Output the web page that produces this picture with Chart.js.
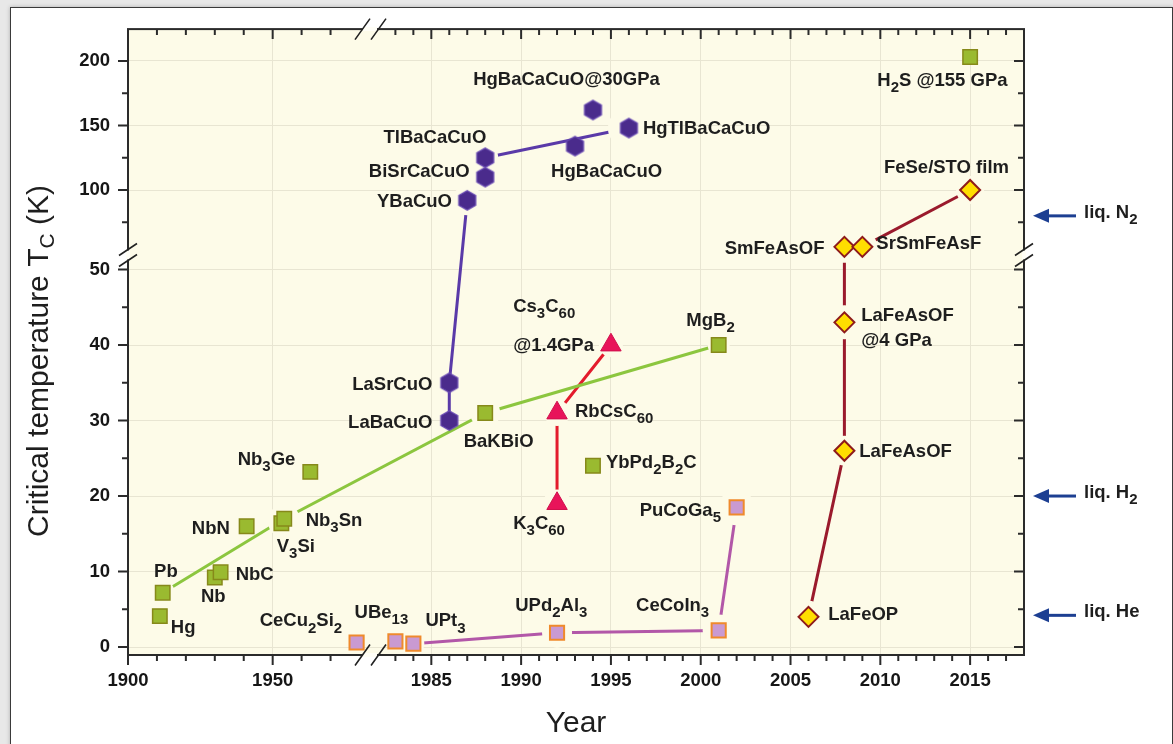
<!DOCTYPE html>
<html><head><meta charset="utf-8">
<script src="https://cdn.jsdelivr.net/npm/chart.js@4.4.1/dist/chart.umd.min.js"></script>
<style>
html,body{margin:0;padding:0;background:#e8e8e8;width:1173px;height:744px;overflow:hidden}
#frame{position:absolute;left:10px;top:7px;width:1161px;height:800px;background:#fff;border:1px solid #3a3a3a;box-shadow:0 0 4px rgba(0,0,0,.25)}
canvas{position:absolute;left:0;top:0}
</style></head><body>
<div id="frame"></div>
<canvas id="c" width="1173" height="744"></canvas>
<script>
// ---------------- data (year of discovery, Tc in K) ----------------
const convNames = ['Hg','Pb','Nb','NbC','NbN','V3Si','Nb3Sn','Nb3Ge','BaKBiO','YbPd2B2C','MgB2','H2S'];
const convYear  = [1911,1912,1930,1932,1941,1953,1954,1963,1988,1994,2001,2015];
const convTc    = [4.1,7.2,9.2,9.9,16.0,16.4,17.0,23.2,31,24,40,203];
const convPath  = ['Pb','Nb3Sn','BaKBiO','MgB2'];

const cuprNames = ['LaBaCuO','LaSrCuO','YBaCuO','BiSrCaCuO','TlBaCaCuO','HgBaCaCuO','HgBaCaCuO@30GPa','HgTlBaCaCuO'];
const cuprYear  = [1986,1986,1987,1988,1988,1993,1994,1996];
const cuprTc    = [30,35,92,110,125,134,162,148];
const cuprPathA = ['LaBaCuO','LaSrCuO','YBaCuO'];
const cuprPathB = ['TlBaCaCuO','HgTlBaCaCuO'];

const fullNames = ['K3C60','RbCsC60','Cs3C60'];
const fullYear  = [1992,1992,1995];
const fullTc    = [19,31,40];
const fullPath  = ['K3C60','RbCsC60','Cs3C60'];

const hfNames = ['CeCu2Si2','UBe13','UPt3','UPd2Al3','CeCoIn','PuCoGa5'];
const hfYear  = [1979,1983,1984,1992,2001,2002];
const hfTc    = [0.6,0.75,0.45,1.9,2.2,18.5];
const hfPath  = ['UPt3','UPd2Al3','CeCoIn','PuCoGa5'];

const feNames = ['LaFeOP','LaFeAsOF','LaFeAsOF@4GPa','SmFeAsOF','SrSmFeAsF','FeSe/STO'];
const feYear  = [2006,2008,2008,2008,2009,2015];
const feTc    = [4,26,43,56,56,100];
const fePathA = ['LaFeOP','LaFeAsOF','LaFeAsOF@4GPa','SmFeAsOF'];
const fePathB = ['SrSmFeAsF','FeSe/STO'];

const liqNames = ['liq. N_{2}','liq. H_{2}','liq. He'];
const liqTc    = [80,20,4.2];

const xMajorYears = [1900,1950,1985,1990,1995,2000,2005,2010,2015];
const xMinorYears = [1910,1920,1930,1940,1960,1970,1983,1984,1986,1987,1988,1989,1991,1992,1993,1994,1996,1997,1998,1999,2001,2002,2003,2004,2006,2007,2008,2009,2011,2012,2013,2014,2016,2017];
const yMajorTc = [0,10,20,30,40,50,100,150,200];
const yMinorTc = [5,15,25,35,45,75,125,175];

// text annotations: text, anchor year, anchor Tc, alignment
const notes = [
 {t:'Pb',x:1909.0,y:9.9,a:'L'},{t:'Hg',x:1914.8,y:2.5,a:'L'},{t:'Nb',x:1925.2,y:6.6,a:'L'},
 {t:'NbC',x:1937.2,y:9.6,a:'L'},{t:'NbN',x:1935.2,y:15.6,a:'R'},{t:'V_{3}Si',x:1951.4,y:13.3,a:'L'},
 {t:'Nb_{3}Sn',x:1961.4,y:16.7,a:'L'},{t:'Nb_{3}Ge',x:1937.9,y:24.8,a:'L'},
 {t:'CeCu_{2}Si_{2}',x:1945.5,y:3.4,a:'L'},{t:'UBe_{13}',x:1978.3,y:4.5,a:'L'},
 {t:'UPt_{3}',x:1984.67,y:3.4,a:'L'},{t:'UPd_{2}Al_{3}',x:1989.67,y:5.5,a:'L'},
 {t:'CeCoIn_{3}',x:1996.4,y:5.5,a:'L'},{t:'PuCoGa_{5}',x:1996.6,y:18.0,a:'L'},
 {t:'K_{3}C_{60}',x:1989.56,y:16.25,a:'L'},{t:'LaFeOP',x:2007.1,y:4.2,a:'L'},
 {t:'LaSrCuO',x:1985.06,y:34.7,a:'R'},{t:'LaBaCuO',x:1985.06,y:29.7,a:'R'},
 {t:'BaKBiO',x:1986.8,y:27.2,a:'L'},{t:'Cs_{3}C_{60}',x:1989.56,y:45.0,a:'L'},
 {t:'@1.4GPa',x:1989.56,y:39.9,a:'L'},{t:'RbCsC_{60}',x:1993.0,y:31.2,a:'L'},
 {t:'YbPd_{2}B_{2}C',x:1994.72,y:24.4,a:'L'},{t:'MgB_{2}',x:1999.2,y:43.2,a:'L'},
 {t:'YBaCuO',x:1986.15,y:90.8,a:'R'},{t:'BiSrCaCuO',x:1987.13,y:113.8,a:'R'},
 {t:'TlBaCaCuO',x:1988.06,y:140,a:'R'},{t:'HgBaCaCuO',x:1991.67,y:114.2,a:'L'},
 {t:'HgBaCaCuO@30GPa',x:1987.33,y:185,a:'L'},{t:'HgTlBaCaCuO',x:1996.78,y:147.3,a:'L'},
 {t:'SmFeAsOF',x:2006.89,y:54.2,a:'R'},{t:'SrSmFeAsF',x:2009.78,y:58.1,a:'L'},
 {t:'LaFeAsOF',x:2008.94,y:43.9,a:'L'},{t:'@4 GPa',x:2008.94,y:40.5,a:'L'},
 {t:'LaFeAsOF',x:2008.83,y:25.9,a:'L'},{t:'FeSe/STO film',x:2010.2,y:116.9,a:'L'},
 {t:'H_{2}S @155 GPa',x:2009.83,y:184.2,a:'L'}
];

// ---------------- broken-axis transforms ----------------
const XK = 2.9/18;                       // 1900-1980 section compressed
function dx(yr){ return yr <= 1980 ? 1981 - (1980 - yr)*XK : yr; }
function ix(d){ return d < 1981 ? 1980 - (1981 - d)/XK : d; }
const YK = 1.3/7.6, Y100 = 60.526;       // 50-225 K section compressed
function dy(t){ return t <= 50.5 ? t : Y100 + (t - 100)*YK; }
function iy(d){ return d <= 50.5 ? d : 100 + (d - Y100)/YK; }

const FONT = "'Liberation Sans', Arial, Helvetica, sans-serif";
const CREAM = '#fdfbe8';
Chart.defaults.font.family = FONT;

function pts(names, years, tcs, sel){
  const list = sel || names;
  return list.map(n => { const i = names.indexOf(n); return {x: dx(years[i]), y: dy(tcs[i])}; });
}

function hexImg(r, fill, stroke){
  const c = document.createElement('canvas'); const s = Math.ceil(2*r + 3);
  c.width = s; c.height = s; const g = c.getContext('2d');
  g.beginPath();
  for (let k = 0; k < 6; k++){ const a = Math.PI/180*(60*k - 90);
    const px = s/2 + r*Math.cos(a), py = s/2 + r*Math.sin(a); k ? g.lineTo(px,py) : g.moveTo(px,py); }
  g.closePath(); g.fillStyle = fill; g.fill(); g.lineWidth = 1.2; g.strokeStyle = stroke; g.stroke();
  return c;
}
const hex = hexImg(9.8, '#4a2b8c', '#6a4cb4');

// halo radii (gap of connecting lines around markers)
const haloR = {Pb:12,Nb3Sn:15,V3Si:13,BaKBiO:15,MgB2:11,YBaCuO:15,TlBaCaCuO:13,HgTlBaCaCuO:21,
  K3C60:14,RbCsC60:13,Cs3C60:12,UPt3:11,UPd2Al3:15,CeCoIn:16,PuCoGa5:18,
  LaFeOP:16,LaFeAsOF:15,'LaFeAsOF@4GPa':17,SmFeAsOF:16,SrSmFeAsF:15,'FeSe/STO':14};
const allSets = [[convNames,convYear,convTc],[cuprNames,cuprYear,cuprTc],[fullNames,fullYear,fullTc],[hfNames,hfYear,hfTc],[feNames,feYear,feTc]];
const haloData = [], haloRad = [];
allSets.forEach(([n,y,t]) => n.forEach((nm,i) => { if (haloR[nm]) { haloData.push({x:dx(y[i]), y:dy(t[i])}); haloRad.push(haloR[nm]); } }));

function lineDS(data, color){ return {data, showLine:true, borderColor:color, borderWidth:3, pointRadius:0, pointHoverRadius:0, fill:false, order:10, borderCapStyle:'butt'}; }

const datasets = [
  lineDS(pts(convNames,convYear,convTc,convPath), '#8cc63f'),
  lineDS(pts(cuprNames,cuprYear,cuprTc,cuprPathA), '#5a3aa8'),
  lineDS(pts(cuprNames,cuprYear,cuprTc,cuprPathB), '#5a3aa8'),
  lineDS(pts(fullNames,fullYear,fullTc,fullPath), '#e31b2c'),
  lineDS(pts(hfNames,hfYear,hfTc,hfPath), '#b257a8'),
  lineDS(pts(feNames,feYear,feTc,fePathA), '#9a1a2c'),
  lineDS(pts(feNames,feYear,feTc,fePathB), '#9a1a2c'),
  {data: haloData, pointStyle:'circle', pointRadius: haloRad, pointBackgroundColor: CREAM, pointBorderWidth:0, order:5},
  {data: pts(convNames,convYear,convTc), pointStyle:'rect', pointRadius:10.2, pointBackgroundColor:'#9aba30', pointBorderColor:'#86891a', pointBorderWidth:1.5, order:1},
  {data: pts(cuprNames,cuprYear,cuprTc), pointStyle:hex, pointRadius:10, order:1},
  {data: pts(fullNames,fullYear,fullTc), pointStyle:'triangle', pointRadius:11.8, pointBackgroundColor:'#e8145a', pointBorderColor:'#d0104c', pointBorderWidth:1, order:1},
  {data: pts(hfNames,hfYear,hfTc), pointStyle:'rect', pointRadius:10, pointBackgroundColor:'#c99ad2', pointBorderColor:'#ef8a2c', pointBorderWidth:2, order:1},
  {data: pts(feNames,feYear,feTc), pointStyle:'rectRot', pointRadius:10, pointBackgroundColor:'#ffde00', pointBorderColor:'#8e1b1b', pointBorderWidth:2, order:1}
];

// ---------------- rich text (subscripts) ----------------
function richParts(s){
  const parts = []; const re = /_\{([^}]*)\}/g; let last = 0, m;
  while ((m = re.exec(s))) { if (m.index > last) parts.push([s.slice(last, m.index), false]); parts.push([m[1], true]); last = re.lastIndex; }
  if (last < s.length) parts.push([s.slice(last), false]);
  return parts;
}
function drawRich(ctx, s, x, y, align, size, subSize, subDy, weight){
  const parts = richParts(s);
  const fMain = weight + ' ' + size + 'px ' + FONT, fSub = weight + ' ' + subSize + 'px ' + FONT;
  let w = 0; parts.forEach(p => { ctx.font = p[1] ? fSub : fMain; p.w = ctx.measureText(p[0]).width; w += p.w; });
  let cx = align === 'R' ? x - w : align === 'C' ? x - w/2 : x;
  ctx.textBaseline = 'middle'; ctx.textAlign = 'left';
  parts.forEach(p => { ctx.font = p[1] ? fSub : fMain; ctx.fillText(p[0], cx, p[1] ? y + subDy : y); cx += p.w; });
}

const bgPlugin = { id:'bg', beforeDraw(chart){ const {ctx, chartArea:a} = chart; ctx.save(); ctx.fillStyle = CREAM; ctx.fillRect(a.left, a.top, a.right-a.left, a.bottom-a.top); ctx.restore(); } };

const overlay = { id:'overlay', afterDraw(chart){
  const ctx = chart.ctx, a = chart.chartArea, xs = chart.scales.x, ys = chart.scales.y;
  ctx.save();
  // frame
  ctx.strokeStyle = '#2b2b2b'; ctx.lineWidth = 2;
  ctx.strokeRect(a.left, a.top, a.right-a.left, a.bottom-a.top);
  // ticks
  ctx.beginPath();
  const seg = (x1,y1,x2,y2) => { ctx.moveTo(x1,y1); ctx.lineTo(x2,y2); };
  xMajorYears.forEach(v => { const p = xs.getPixelForValue(dx(v)); seg(p,a.bottom,p,a.bottom+10); seg(p,a.top,p,a.top+10); });
  xMinorYears.forEach(v => { const p = xs.getPixelForValue(dx(v)); seg(p,a.bottom,p,a.bottom+6); seg(p,a.top,p,a.top+6); });
  yMajorTc.forEach(v => { const p = ys.getPixelForValue(dy(v)); seg(a.left-10,p,a.left,p); seg(a.right-10,p,a.right,p); });
  yMinorTc.forEach(v => { const p = ys.getPixelForValue(dy(v)); seg(a.left-6,p,a.left,p); seg(a.right-6,p,a.right,p); });
  ctx.stroke();
  // axis breaks
  const bx1 = 362, bx2 = 378;
  [a.top, a.bottom].forEach(yy => {
    ctx.fillStyle = '#fffef6'; ctx.fillRect(bx1+1, yy-2, bx2-bx1-2, 4);
    ctx.beginPath(); ctx.lineWidth = 1.6; ctx.strokeStyle = '#222';
    [bx1,bx2].forEach(bx => seg(bx-7, yy+10.5, bx+8, yy-10.5)); ctx.stroke();
  });
  const by1 = 249.5, by2 = 260.5;
  [a.left, a.right].forEach(xx => {
    ctx.fillStyle = '#fffef6'; ctx.fillRect(xx-2, by1+1, 4, by2-by1-2);
    ctx.beginPath(); ctx.lineWidth = 1.6; ctx.strokeStyle = '#222';
    [by1,by2].forEach(by => seg(xx-9, by+6, xx+9, by-6)); ctx.stroke();
  });
  // annotations
  ctx.fillStyle = '#1e1e1e';
  notes.forEach(n => drawRich(ctx, n.t, xs.getPixelForValue(dx(n.x)), ys.getPixelForValue(dy(n.y)), n.a, 18.5, 15, 7, 'bold'));
  // liquid markers
  liqTc.forEach((t,i) => {
    const y = ys.getPixelForValue(dy(t)); const tip = a.right + 9, tail = a.right + 52;
    ctx.strokeStyle = '#1d3f92'; ctx.fillStyle = '#1d3f92'; ctx.lineWidth = 3;
    ctx.beginPath(); ctx.moveTo(tip+12, y); ctx.lineTo(tail, y); ctx.stroke();
    ctx.beginPath(); ctx.moveTo(tip, y); ctx.lineTo(tip+16, y-7); ctx.lineTo(tip+16, y+7); ctx.closePath(); ctx.fill();
    ctx.fillStyle = '#1e1e1e';
    drawRich(ctx, liqNames[i], a.right + 60, y - 3, 'L', 18.5, 15, 7, 'bold');
  });
  // axis titles
  ctx.fillStyle = '#1e1e1e';
  drawRich(ctx, 'Year', (a.left+a.right)/2, 724, 'C', 30, 21, 8, 'normal');
  ctx.translate(40, 361); ctx.rotate(-Math.PI/2);
  drawRich(ctx, 'Critical temperature T_{C} (K)', 0, 0, 'C', 30, 21, 8, 'normal');
  ctx.restore();
}};

new Chart(document.getElementById('c'), {
  type: 'scatter',
  data: { datasets },
  options: {
    responsive: false, animation: false, devicePixelRatio: 1,
    layout: { padding: { top: 25, right: 149, left: 0, bottom: 0 } },
    plugins: { legend: { display: false }, tooltip: { enabled: false } },
    scales: {
      x: { type: 'linear', min: dx(1900), max: 2018,
        afterBuildTicks: s => { s.ticks = xMajorYears.map(v => ({ value: dx(v) })); },
        afterFit: s => { s.height = 89; },
        ticks: { callback: v => String(Math.round(ix(v))), font: { family: FONT, size: 18.5, weight: 'bold' }, color: '#161616', padding: 15, maxRotation: 0, autoSkip: false },
        grid: { color: '#e8e5d2', lineWidth: 1, drawTicks: false },
        border: { display: false } },
      y: { type: 'linear', min: -1.053, max: 81.84,
        afterBuildTicks: s => { s.ticks = yMajorTc.map(v => ({ value: dy(v) })); },
        afterFit: s => { s.width = 128; },
        ticks: { callback: v => String(Math.round(iy(v))), font: { family: FONT, size: 18.5, weight: 'bold' }, color: '#161616', padding: 18, autoSkip: false },
        grid: { color: '#e8e5d2', lineWidth: 1, drawTicks: false },
        border: { display: false } }
    }
  },
  plugins: [bgPlugin, overlay]
});
</script>
</body></html>
